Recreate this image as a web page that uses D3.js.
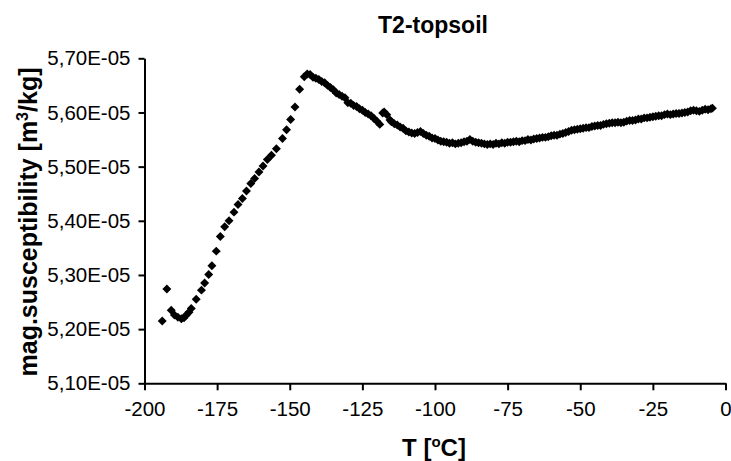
<!DOCTYPE html>
<html>
<head>
<meta charset="utf-8">
<script src="https://cdn.jsdelivr.net/npm/d3@7"></script>
<style>
  body { margin: 0; background: #fff; }
  svg { display: block; font-family: "Liberation Sans", Arial, sans-serif; }
</style>
</head>
<body>
<svg width="731" height="461"></svg>
<script>
// temperature [°C] and mag. susceptibility (in units of 1e-5 m3/kg)
const tempC = [
  -193.9, -192.3, -190.8, -189.7, -188.5, -187.3, -186.4, -185.6, -184.7, -183.9,
  -182.2, -180.4, -179.3, -177.9, -176.8, -175.3, -173.9, -172.4, -170.9, -169.2,
  -167.8, -166.3, -164.9, -163.4, -162.1, -160.6, -159.2, -157.7, -156.3, -154.6,
  -152.5, -151.1, -149.7, -148.2, -146.6,
  -145, -144, -143, -142, -141, -140, -139, -138, -137, -136,
  -135, -134, -133, -132, -131, -130, -129, -128, -127, -126,
  -125, -124, -123, -122, -121, -120, -119, -118, -117.5, -116.6,
  -115.5, -115, -114, -113, -112, -111, -110, -109, -108, -107,
  -106, -105, -104, -103, -102, -101, -100, -99, -98, -97,
  -96, -95, -94, -93, -92, -91, -90, -89, -88, -87,
  -86, -85, -84, -83, -82, -81, -80, -79, -78, -77,
  -76, -75, -74, -73, -72, -71, -70, -69, -68, -67,
  -66, -65, -64, -63, -62, -61, -60, -59, -58, -57,
  -56, -55, -54, -53, -52, -51, -50, -49, -48, -47,
  -46, -45, -44, -43, -42, -41, -40, -39, -38, -37,
  -36, -35, -34, -33, -32, -31, -30, -29, -28, -27,
  -26, -25, -24, -23, -22, -21, -20, -19, -18, -17,
  -16, -15, -14, -13, -12, -11, -10, -9, -8, -7,
  -6, -5, -4.5
];
const chi = [
  5.215, 5.274, 5.235, 5.226, 5.222, 5.219, 5.221, 5.226, 5.231, 5.238,
  5.255, 5.272, 5.285, 5.301, 5.317, 5.344, 5.371, 5.389, 5.400, 5.416,
  5.430, 5.441, 5.455, 5.469, 5.478, 5.490, 5.501, 5.513, 5.521, 5.533,
  5.552, 5.568, 5.587, 5.610, 5.643,
  5.666, 5.671, 5.670, 5.665, 5.663, 5.661, 5.657, 5.655, 5.650, 5.646,
  5.642, 5.636, 5.633, 5.630, 5.627, 5.618, 5.617, 5.613, 5.611, 5.607,
  5.604, 5.600, 5.597, 5.594, 5.589, 5.584, 5.578, 5.599, 5.601, 5.596,
  5.586, 5.583, 5.579, 5.577, 5.573, 5.571, 5.566, 5.564, 5.562, 5.561,
  5.563, 5.565, 5.561, 5.558, 5.556, 5.553, 5.552, 5.549, 5.547, 5.546,
  5.545, 5.543, 5.544, 5.542, 5.543, 5.544, 5.546, 5.547, 5.550, 5.547,
  5.545, 5.544, 5.543, 5.542, 5.541, 5.542, 5.541, 5.543, 5.542, 5.544,
  5.543, 5.545, 5.545, 5.546, 5.547, 5.546, 5.548, 5.548, 5.550, 5.549,
  5.551, 5.552, 5.553, 5.554, 5.554, 5.555, 5.557, 5.558, 5.558, 5.560,
  5.561, 5.563, 5.565, 5.567, 5.568, 5.569, 5.570, 5.571, 5.572, 5.572,
  5.574, 5.575, 5.576, 5.576, 5.578, 5.579, 5.580, 5.581, 5.581, 5.582,
  5.581, 5.582, 5.584, 5.585, 5.585, 5.586, 5.588, 5.588, 5.590, 5.590,
  5.591, 5.592, 5.593, 5.594, 5.594, 5.596, 5.597, 5.596, 5.597, 5.598,
  5.598, 5.599, 5.600, 5.601, 5.603, 5.604, 5.603, 5.602, 5.604, 5.606,
  5.605, 5.607, 5.608
];
const xTicks = [-200, -175, -150, -125, -100, -75, -50, -25, 0];
const yTicks = [5.10, 5.20, 5.30, 5.40, 5.50, 5.60, 5.70];

let svg = d3.select("svg");

let x = d3.scaleLinear().domain([-200, 0]).range([144.5, 725.5]);
let y = d3.scaleLinear().domain([5.10, 5.70]).range([383.3, 58.3]);

// axes
svg.append("g")
    .attr("transform", `translate(0,${y(5.10)})`)
    .call(d3.axisBottom(x).tickValues(xTicks).tickSize(7).tickSizeOuter(0).tickPadding(11)
        .tickFormat(d => d));

svg.append("g")
    .attr("transform", `translate(${x(-200)},0)`)
    .call(d3.axisLeft(y).tickValues(yTicks).tickSize(6).tickSizeOuter(0).tickPadding(8)
        .tickFormat(d => d.toFixed(2).replace(".", ",") + "E-05"));

svg.selectAll(".domain, .tick line")
    .attr("stroke", "#000")
    .attr("stroke-width", 2);
svg.selectAll(".tick text")
    .attr("fill", "#000")
    .style("font-size", "20.5px")
    .style("font-family", "'Liberation Sans', Arial, sans-serif");

// markers
svg.append("g")
    .selectAll(".pt")
    .data(tempC.map((t, i) => [t, chi[i]]))
    .enter()
    .append("path")
    .attr("class", "pt")
    .attr("d", d3.symbol(d3.symbolSquare, 40))
    .attr("transform", d => `translate(${x(d[0])},${y(d[1])}) rotate(45)`)
    .attr("fill", "#000");

// titles
svg.append("text")
    .attr("x", 433).attr("y", 33)
    .attr("text-anchor", "middle")
    .style("font-size", "23px").style("font-weight", "bold")
    .text("T2-topsoil");

let xt = svg.append("text")
    .attr("x", 434).attr("y", 456)
    .attr("text-anchor", "middle")
    .style("font-size", "24px").style("font-weight", "bold");
xt.append("tspan").text("T [");
xt.append("tspan").attr("dy", -9).style("font-size", "15px").text("o");
xt.append("tspan").attr("dy", 9).text("C]");

let yt = svg.append("text")
    .attr("transform", "translate(37,222) rotate(-90)")
    .attr("text-anchor", "middle")
    .style("font-size", "25px").style("font-weight", "bold");
yt.append("tspan").text("mag.susceptibility [m");
yt.append("tspan").attr("dy", -9).style("font-size", "16px").text("3");
yt.append("tspan").attr("dy", 9).text("/kg]");
</script>
</body>
</html>
